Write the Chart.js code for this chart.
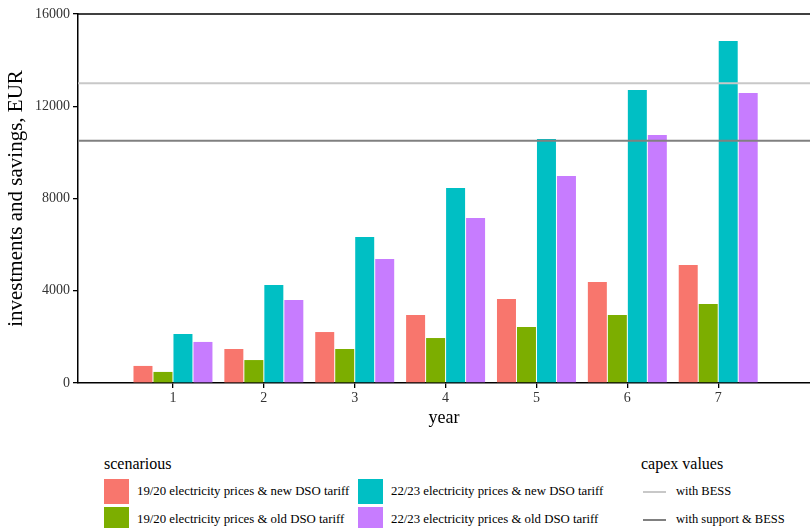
<!DOCTYPE html>
<html lang="en">
<head>
    <meta charset="UTF-8">
    <title>Investments and savings</title>
    <style>
        body {
            margin: 0;
            padding: 0;
            background: #fff;
            font-family: "Liberation Serif", serif;
            color: #000;
        }
        #wrap {
            position: relative;
            width: 810px;
            height: 528px;
            overflow: hidden;
        }
        #chart-box {
            position: absolute;
            left: 0;
            top: 0;
            width: 810px;
            height: 440px;
        }
        .legend {
            position: absolute;
            top: 455px;
        }
        .legend .ttl {
            font-size: 16px;
            line-height: 18px;
            height: 24px;
        }
        #scen-legend { left: 104px; }
        #scen-items {
            display: grid;
            grid-template-columns: 25px 213px 25px auto;
            grid-template-rows: 25px 25px;
            column-gap: 8px;
            row-gap: 3px;
        }
        #capex-legend { left: 641px; }
        #capex-items {
            display: grid;
            grid-template-columns: 23px auto;
            grid-template-rows: 25px 25px;
            column-gap: 10px;
            row-gap: 3px;
            margin-left: 2px;
        }
        .key { width: 25px; height: 25px; }
        .lkey { width: 23px; height: 2px; align-self: center; }
        .lab {
            font-size: 12.8px;
            line-height: 25px;
            white-space: nowrap;
        }
        #capex-items .lab { font-size: 12.5px; }
    </style>
    <script src="https://cdn.jsdelivr.net/npm/chart.js"></script>
</head>
<body>
<div id="wrap">
    <div id="chart-box"><canvas id="chart"></canvas></div>
    <div class="legend" id="scen-legend">
        <div class="ttl">scenarious</div>
        <div id="scen-items"></div>
    </div>
    <div class="legend" id="capex-legend">
        <div class="ttl">capex values</div>
        <div id="capex-items"></div>
    </div>
</div>
<script>
    const years = [1, 2, 3, 4, 5, 6, 7];
    const scenarioNames = [
        '19/20 electricity prices & new DSO tariff',
        '19/20 electricity prices & old DSO tariff',
        '22/23 electricity prices & new DSO tariff',
        '22/23 electricity prices & old DSO tariff'
    ];
    const scenarioColors = ['#F8766D', '#7CAE00', '#00BFC4', '#C77CFF'];
    const newTariff1920 = [740, 1475, 2210, 2950, 3645, 4380, 5115];
    const oldTariff1920 = [480, 995, 1475, 1950, 2430, 2950, 3425];
    const newTariff2223 = [2125, 4250, 6330, 8455, 10580, 12705, 14830];
    const oldTariff2223 = [1780, 3600, 5375, 7155, 8975, 10755, 12575];
    const capexNames = ['with BESS', 'with support & BESS'];
    const capexValues = [13000, 10500];
    const capexColors = ['#C8C8C8', '#808080'];
    const yTicks = [0, 4000, 8000, 12000, 16000];
    const xMin = -0.045, xMax = 8.01;

    const seriesValues = [newTariff1920, oldTariff1920, newTariff2223, oldTariff2223];

    // legend (html)
    const scenItems = document.getElementById('scen-items');
    scenarioNames.forEach((name, i) => {
        const box = document.createElement('div');
        box.className = 'key';
        box.style.background = scenarioColors[i];
        const lab = document.createElement('div');
        lab.className = 'lab';
        lab.textContent = name;
        box.style.gridColumn = (i < 2 ? 1 : 3);
        box.style.gridRow = (i % 2) + 1;
        lab.style.gridColumn = (i < 2 ? 2 : 4);
        lab.style.gridRow = (i % 2) + 1;
        scenItems.appendChild(box);
        scenItems.appendChild(lab);
    });
    const capexItems = document.getElementById('capex-items');
    capexNames.forEach((name, i) => {
        const k = document.createElement('div');
        k.className = 'lkey';
        k.style.background = capexColors[i];
        const lab = document.createElement('div');
        lab.className = 'lab';
        lab.textContent = name;
        capexItems.appendChild(k);
        capexItems.appendChild(lab);
    });

    const barSets = scenarioNames.map((name, i) => ({
        type: 'bar',
        label: name,
        data: years.map((y, j) => ({ x: y, y: seriesValues[i][j] })),
        backgroundColor: scenarioColors[i],
        borderWidth: 0,
        categoryPercentage: 0.88,
        barPercentage: 0.95,
        order: 1
    }));
    const lineSets = capexNames.map((name, i) => ({
        type: 'line',
        label: name,
        data: [{ x: xMin, y: capexValues[i] }, { x: xMax, y: capexValues[i] }],
        borderColor: capexColors[i],
        borderWidth: 2,
        pointRadius: 0,
        fill: false,
        order: 0
    }));

    const topBorder = {
        id: 'topBorder',
        afterDraw(chart) {
            const { ctx, chartArea } = chart;
            ctx.save();
            ctx.strokeStyle = '#000';
            ctx.lineWidth = 1.5;
            ctx.beginPath();
            ctx.moveTo(chartArea.left, chartArea.top);
            ctx.lineTo(chartArea.right, chartArea.top);
            ctx.stroke();
            ctx.restore();
        }
    };

    const tickFont = { family: 'Liberation Serif', size: 14 };

    new Chart(document.getElementById('chart'), {
        type: 'bar',
        data: { datasets: [...barSets, ...lineSets] },
        plugins: [topBorder],
        options: {
            responsive: true,
            maintainAspectRatio: false,
            animation: false,
            layout: { padding: { top: 14, right: 0, left: 0, bottom: 0 } },
            plugins: {
                legend: { display: false },
                tooltip: { enabled: false }
            },
            scales: {
                x: {
                    type: 'linear',
                    offset: false,
                    min: xMin,
                    max: xMax,
                    afterBuildTicks: s => { s.ticks = years.map(v => ({ value: v })); },
                    afterFit: s => { s.height = 57; },
                    ticks: { font: tickFont, color: '#333', padding: 2, maxRotation: 0, callback: v => String(v) },
                    grid: { offset: false, drawOnChartArea: false, drawTicks: true, tickLength: 5, color: '#000', lineWidth: 1.3 },
                    border: { display: true, color: '#000', width: 1.5 },
                    title: { display: true, text: 'year', font: { family: 'Liberation Serif', size: 18 }, color: '#000', padding: { top: 0, bottom: 11 } }
                },
                y: {
                    min: 0,
                    max: 16000,
                    afterBuildTicks: s => { s.ticks = yTicks.map(v => ({ value: v })); },
                    afterFit: s => { s.width = 78; },
                    ticks: { font: tickFont, color: '#333', padding: 3, callback: v => String(v) },
                    grid: { drawOnChartArea: false, drawTicks: true, tickLength: 5, color: '#000', lineWidth: 1.3 },
                    border: { display: true, color: '#000', width: 1.5 },
                    title: { display: true, text: 'investments and savings, EUR', font: { family: 'Liberation Serif', size: 21 }, color: '#000', padding: { top: 4, bottom: 0 } }
                }
            }
        }
    });
</script>
</body>
</html>
